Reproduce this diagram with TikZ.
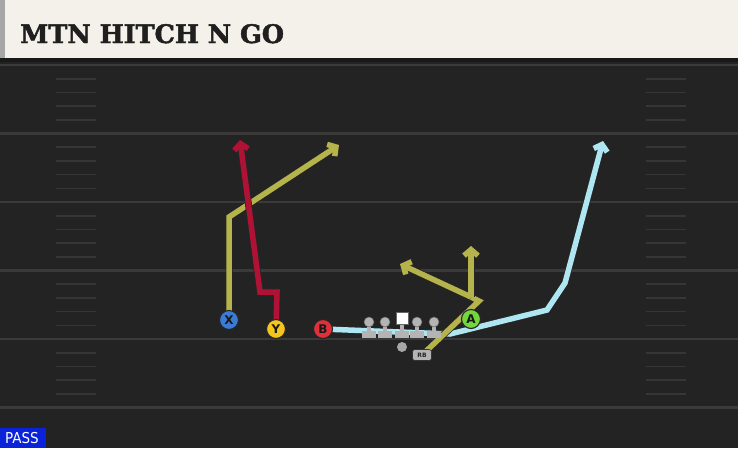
\documentclass[tikz,border=0pt]{standalone}
\usepackage{fontspec}
\newfontfamily\titlefont[BoldFeatures={FakeBold=1.8}]{DejaVu Serif}
\newfontfamily\labelfont{DejaVu Sans}
\newfontfamily\passfont{DejaVu Sans Condensed}
\usetikzlibrary{arrows.meta}
\pgfdeclarelayer{bg}
\pgfdeclarelayer{routes}
\pgfsetlayers{bg,routes,main}
\definecolor{fieldbg}{HTML}{232323}
\definecolor{yardline}{HTML}{3A3A3A}
\definecolor{hashmark}{HTML}{363636}
\definecolor{header}{HTML}{F4F1EA}
\definecolor{olive}{HTML}{B5B34C}
\definecolor{crimson}{HTML}{B01236}
\definecolor{skyblue}{HTML}{AEE6F2}
\definecolor{xblue}{HTML}{3B7BD6}
\definecolor{yyellow}{HTML}{F4C51C}
\definecolor{bred}{HTML}{E0303A}
\definecolor{agreen}{HTML}{72D63C}
\definecolor{passblue}{HTML}{0A22D8}
\definecolor{linegray}{HTML}{B4B4B4}

\begin{document}
\begin{tikzpicture}[x=1pt, y=-1pt,
    route/.style={line width=5.5pt, line join=miter,
        preaction={draw=black!85, line width=7pt},
        -{Straight Barb[length=6pt, width=14pt]}},
    player/.style={circle, draw=black!85, line width=1.1pt, minimum size=19pt,
        inner sep=0pt, text=black!90,
        font=\labelfont\bfseries\fontsize{12}{12}\selectfont},
    rbbox/.style={fill=linegray, draw=black!80, line width=0.6pt, rounded corners=2.5pt,
        inner sep=1pt, minimum width=19pt, minimum height=11pt, text=black!85,
        font=\labelfont\bfseries\fontsize{6}{6}\selectfont}]
   \useasboundingbox (0, 0) rectangle (738, 448);
   \begin{pgfonlayer}{bg}
   % field and header
   \fill [fieldbg] (0, 0) rectangle (738, 448);
   \fill [black!90] (0, 56) rectangle (738, 62);
   \fill [header] (0, 0) rectangle (738, 58);
   \fill [gray!70] (0, 0) rectangle (5, 58);
   % yard lines and hash marks
   \foreach \k in {0, ..., 5}
       \draw [yardline, line width=2.2pt] (0, 65+68.5*\k) -- (738, 65+68.5*\k);
   \foreach \k in {0, ..., 4}
       \foreach \j in {1, ..., 4} {
           \draw [hashmark, line width=1.6pt] (56, 65+68.5*\k+13.7*\j) -- (96, 65+68.5*\k+13.7*\j);
           \draw [hashmark, line width=1.6pt] (646, 65+68.5*\k+13.7*\j) -- (686, 65+68.5*\k+13.7*\j);
       }
   \end{pgfonlayer}
   \node [anchor=base west, text=black!88, inner sep=0pt] (title) at (20, 43)
       {\titlefont\bfseries\fontsize{25.5}{25.5}\selectfont MTN HITCH N GO};
   % players
   \node [player, fill=xblue] (x) at (229, 320) {X};
   \node [player, fill=yyellow] (y) at (276, 329) {Y};
   \node [player, fill=bred] (b) at (323, 329) {B};
   \node [player, fill=agreen] (a) at (471, 319) {A};
   \node [rbbox] (rb) at (422, 355) {RB};
   \node [circle, fill=gray!70, inner sep=0pt, minimum size=10pt] (qb) at (402, 347) {};
   % route bends
   \coordinate (xbend) at (229, 217);
   \coordinate (xend) at (339, 145);
   \coordinate (ybend1) at (277, 292);
   \coordinate (ybend2) at (260, 292);
   \coordinate (yend) at (240, 140);
   \coordinate (bbend1) at (450, 334);
   \coordinate (bbend2) at (547, 310);
   \coordinate (bbend3) at (565, 283);
   \coordinate (bend) at (603, 141);
   \coordinate (rbbend1) at (479, 301);
   \coordinate (rbbend2) at (471, 297);
   \coordinate (rbend1) at (400, 264);
   \coordinate (rbend2) at (471, 246);
   % routes
   \begin{pgfonlayer}{routes}
   \draw [route, skyblue] (b.center) -- (bbend1) -- (bbend2) -- (bbend3) -- (bend);
   \draw [route, olive] (x.center) -- (xbend) -- (xend);
   \draw [route, crimson] (y.center) -- (ybend1) -- (ybend2) -- (yend);
   \draw [route, olive, -] (rb.center) -- (rbbend1) -- (rbbend2);
   \draw [route, olive] (rbbend2) -- (rbend1);
   \draw [route, olive] (rbbend2) -- (rbend2);
   % offensive line
   \foreach \lx in {369, 385, 417, 434} {
       \fill [linegray] (\lx-2.2, 322) rectangle (\lx+2.2, 333);
       \fill [linegray] (\lx-7, 331) rectangle (\lx+7, 337.5);
       \filldraw [linegray, draw=black!60, line width=0.5pt] (\lx, 322) circle (5);
   }
   \fill [linegray] (399.8, 318) rectangle (404.2, 333);
   \fill [linegray] (395, 331) rectangle (409, 337.5);
   \filldraw [white, draw=black!60, line width=0.5pt] (396, 312) rectangle (408, 324);
   \end{pgfonlayer}
   % play type
   \fill [passblue] (0, 428) rectangle (46, 448);
   \node [text=white, inner sep=0pt, font=\passfont\fontsize{15}{15}\selectfont] (pass) at (22, 438.5) {PASS};
\end{tikzpicture}
\end{document}
